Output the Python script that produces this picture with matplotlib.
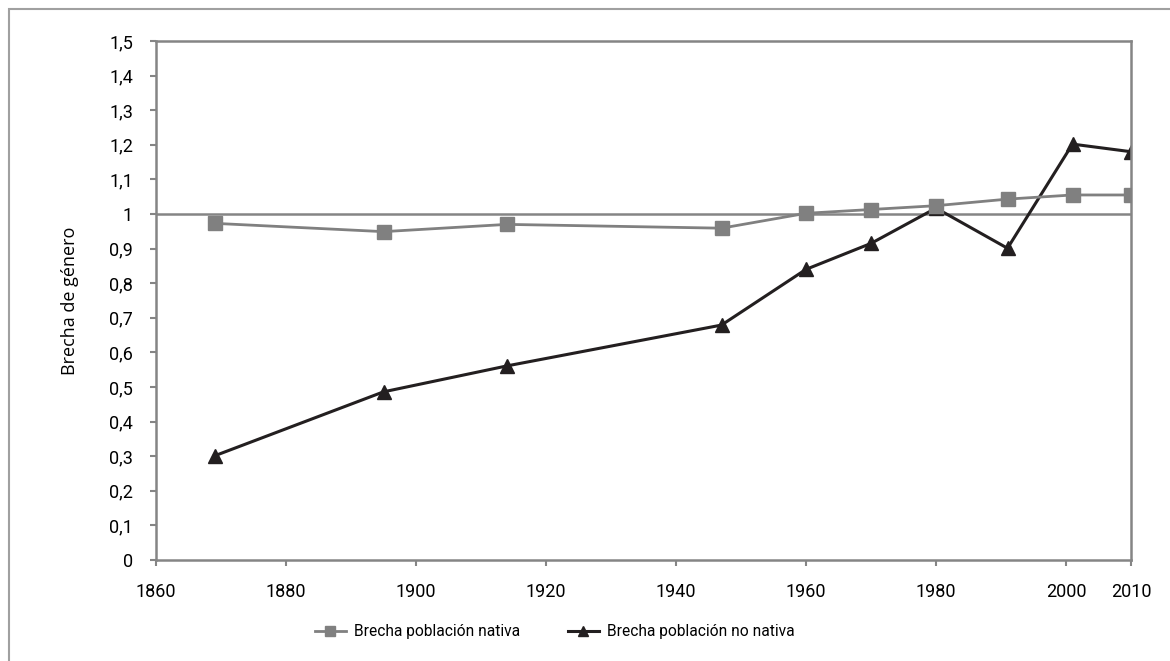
import matplotlib.pyplot as plt
from matplotlib.patches import Rectangle
from matplotlib.ticker import FuncFormatter

years = [1869, 1895, 1914, 1947, 1960, 1970, 1980, 1991, 2001, 2010]
nativa = [0.973, 0.949, 0.970, 0.959, 1.002, 1.013, 1.024, 1.043, 1.055, 1.055]
no_nativa = [0.301, 0.486, 0.561, 0.679, 0.840, 0.915, 1.017, 0.901, 1.202, 1.180]
x_ticks = [1860, 1880, 1900, 1920, 1940, 1960, 1980, 2000, 2010]
y_ticks = [i / 10 for i in range(16)]

plt.rcParams['font.family'] = ['Roboto', 'DejaVu Sans']
fig = plt.figure(figsize=(11.7, 6.61), dpi=100)
ax = fig.add_axes([156 / 1170, 1 - 560 / 661, 975 / 1170, 519 / 661])

grey = '#858585'
ax.axhline(1, color=grey, linewidth=1.8, zorder=1)
ax.plot(years, nativa, color='#808080', linewidth=2, marker='s', markersize=10,
        label='Brecha población nativa', zorder=3)
ax.plot(years, no_nativa, color='#231f20', linewidth=2.2, marker='^', markersize=10,
        label='Brecha población no nativa', zorder=2)

ax.set_xlim(1860, 2010)
ax.set_ylim(0, 1.5)
ax.set_xticks(x_ticks)
ax.set_yticks(y_ticks)
ax.yaxis.set_major_formatter(FuncFormatter(lambda v, p: ('%g' % round(v, 1)).replace('.', ',')))
ax.tick_params(colors=grey, labelcolor='black', labelsize=13, length=4.5, width=1.5, pad=12)
for s in ax.spines.values():
    s.set_color(grey)
    s.set_linewidth(1.8)

ax.set_ylabel('Brecha de género', family=['Open Sans', 'DejaVu Sans'], fontsize=13, labelpad=22)

fig.legend(loc='center', bbox_to_anchor=(0.474, 0.044), ncol=2, frameon=False,
           fontsize=11.2, handlelength=2.0, handletextpad=0.5, markerscale=0.75,
           columnspacing=3.1)

fig.patches.append(Rectangle((8.5 / 1170, -0.1), 1.2, 1 - 9 / 661 + 0.1,
                             transform=fig.transFigure, fill=False,
                             edgecolor='#a0a0a0', linewidth=1.5))

fig.savefig('out.png', dpi=100)
